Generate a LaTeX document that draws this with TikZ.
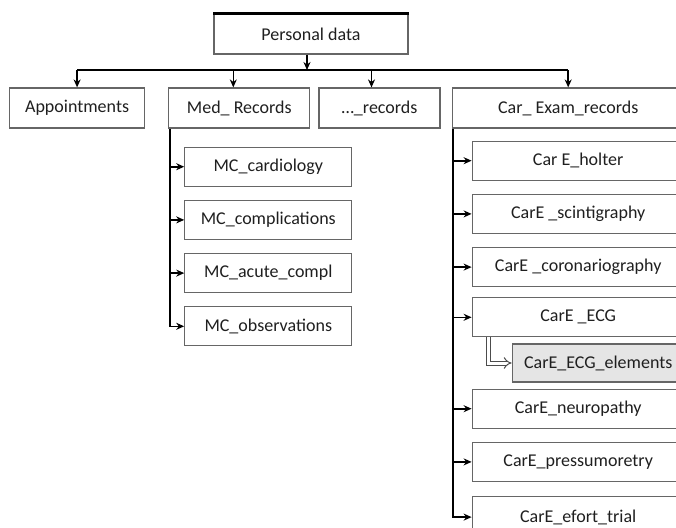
\documentclass[tikz,border=0pt]{standalone}
\usepackage{fontspec}
\setmainfont{Carlito}
\usetikzlibrary{positioning,arrows.meta}

\begin{document}
\begin{tikzpicture}[x=1pt,y=1pt]

        \tikzstyle{arrow} = [line width=1.6pt,-{Stealth[length=8pt,width=7pt]}]
        \tikzset{box/.style = {rectangle, draw=black!60, line width=1.2pt, text=black!88, font=\fontsize{18}{20}\selectfont, minimum height=39pt, inner sep=2pt}, }
        \tikzset{subbox/.style = {box, fill=black!10}, }
        \tikzset{trunk/.style = {line width=1.6pt} }

        \useasboundingbox (0,0) rectangle (676,-527);

        \node[box, minimum width=194pt, minimum height=40pt] (PD) at (311,-34) {Personal data};
        \coordinate (bar) at (0,-70);

        \node[box, minimum width=135pt, minimum height=40pt, anchor=west] (Appt) at (9,-108) {Appointments};
        \node[box, minimum width=141pt, minimum height=40pt, right=23pt of Appt] (Med) {Med\_ Records};
        \node[box, minimum width=121pt, minimum height=40pt, right=8pt of Med] (Rec) {\ldots\_records};
        \node[box, minimum width=232pt, minimum height=40pt, right=11pt of Rec] (CarEx) {Car\_ Exam\_records};

        \node[box, minimum width=167pt, anchor=north west] (MCcard) at ([shift={(16pt,-18pt)}]Med.south west) {MC\_cardiology};
        \node[box, minimum width=167pt, below=13pt of MCcard] (MCcompl) {MC\_complications};
        \node[box, minimum width=167pt, below=13pt of MCcompl] (MCacute) {MC\_acute\_compl};
        \node[box, minimum width=167pt, below=13pt of MCacute] (MCobs) {MC\_observations};

        \node[box, minimum width=212pt, anchor=north west] (holter) at ([shift={(20pt,-12pt)}]CarEx.south west) {Car E\_holter};
        \node[box, minimum width=212pt, below=13pt of holter] (scint) {CarE \_scintigraphy};
        \node[box, minimum width=212pt, below=13pt of scint] (coron) {CarE \_coronariography};
        \node[box, minimum width=212pt, below=10pt of coron] (ECG) {CarE \_ECG};
        \node[subbox, minimum width=172pt, minimum height=38pt, below=6pt of ECG.south east, anchor=north east] (ECGel) {CarE\_ECG\_elements};
        \node[box, minimum width=212pt, anchor=north west] (neuro) at ([yshift=-6pt]ECGel.south -| ECG.south west) {CarE\_neuropathy};
        \node[box, minimum width=212pt, below=13pt of neuro] (press) {CarE\_pressumoretry};
        \node[box, minimum width=212pt, minimum height=41pt, below=14pt of press] (efort) {CarE\_efort\_trial};

        \draw[line width=2.5pt] (PD.north west) -- (PD.north east);

        \draw[arrow] ([xshift=-4pt]PD.south) -- ([xshift=-4pt]PD.south |- bar);
        \draw[trunk] (Appt.north |- bar) -- (CarEx.north |- bar);
        \draw[arrow] (Appt.north |- bar) -- (Appt.north);
        \draw[arrow] ([xshift=-6pt]Med.north |- bar) -- ([xshift=-6pt]Med.north);
        \draw[arrow] ([xshift=-8pt]Rec.north |- bar) -- ([xshift=-8pt]Rec.north);
        \draw[arrow] (CarEx.north |- bar) -- (CarEx.north);

        \coordinate (MedT) at ([xshift=1.5pt]Med.south west);
        \draw[arrow] (MedT) |- (MCobs.west);
        \draw[arrow] (MedT |- MCcard.west) -- (MCcard.west);
        \draw[arrow] (MedT |- MCcompl.west) -- (MCcompl.west);
        \draw[arrow] (MedT |- MCacute.west) -- (MCacute.west);

        \coordinate (CarT) at ([xshift=1.5pt]CarEx.south west);
        \draw[arrow] (CarT) |- (efort.west);
        \draw[arrow] (CarT |- holter.west) -- (holter.west);
        \draw[arrow] (CarT |- scint.west) -- (scint.west);
        \draw[arrow] (CarT |- coron.west) -- (coron.west);
        \draw[arrow] (CarT |- ECG.west) -- (ECG.west);
        \draw[arrow] (CarT |- neuro.west) -- (neuro.west);
        \draw[arrow] (CarT |- press.west) -- (press.west);

        \draw[draw=black!70, double, double distance=3pt, line width=1pt, -{Implies}] ([xshift=17pt]ECG.south west) |- (ECGel.west);

\end{tikzpicture}
\end{document}
